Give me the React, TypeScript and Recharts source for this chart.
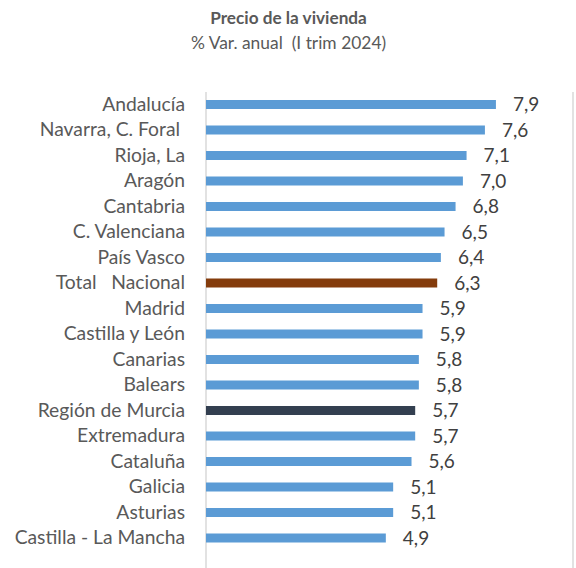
import { Bar, BarChart, CartesianGrid, Cell, LabelList, XAxis, YAxis } from "recharts"

const regions = [
  "Andalucía",
  "Navarra, C. Foral ",
  "Rioja, La",
  "Aragón",
  "Cantabria",
  "C. Valenciana",
  "País Vasco",
  "Total   Nacional",
  "Madrid",
  "Castilla y León",
  "Canarias",
  "Balears",
  "Región de Murcia",
  "Extremadura",
  "Cataluña",
  "Galicia",
  "Asturias",
  "Castilla - La Mancha",
]

const variation = [7.9, 7.6, 7.1, 7.0, 6.8, 6.5, 6.4, 6.3, 5.9, 5.9, 5.8, 5.8, 5.7, 5.7, 5.6, 5.1, 5.1, 4.9]

const xTicks = [0, 5, 10]

const FONT = "Lato, 'Open Sans', sans-serif"

function barColor(name: string) {
  if (name.startsWith("Total")) return "#843C0C"
  if (name === "Región de Murcia") return "#333F50"
  return "#5B9BD5"
}

function RegionTick(props: any) {
  const { x, y, payload } = props
  return (
    <text
      x={x}
      y={y}
      dy={6}
      textAnchor="end"
      fill="#595959"
      fontSize={19.3}
      fontFamily={FONT}
      style={{ whiteSpace: "pre" }}
      xmlSpace="preserve"
    >
      {payload.value}
    </text>
  )
}

export default function App() {
  const chartData = regions.map((region, i) => ({ region, value: variation[i] }))

  return (
    <div style={{ position: "absolute", left: 0, top: 0, width: 576, height: 568, background: "#fff" }}>
      <div
        style={{
          position: "absolute",
          top: 5,
          left: 0,
          width: 577,
          textAlign: "center",
          fontFamily: FONT,
          color: "#595959",
          lineHeight: "25px",
        }}
      >
        <div style={{ fontWeight: "bold", fontSize: 17.2 }}>Precio de la vivienda</div>
        <div style={{ fontSize: 17.4 }}>% Var. anual&nbsp; (I trim 2024)</div>
      </div>
      <BarChart
        width={576}
        height={568}
        data={chartData}
        layout="vertical"
        margin={{ top: 92, right: 3, bottom: 0, left: 0 }}
      >
        <CartesianGrid horizontal={false} stroke="#D9D9D9" strokeWidth={1.5} />
        <XAxis type="number" domain={[0, 10]} ticks={xTicks} axisLine={false} tickLine={false} tick={false} height={0} />
        <YAxis
          type="category"
          dataKey="region"
          width={206}
          axisLine={false}
          tickLine={false}
          tick={<RegionTick />}
          tickMargin={15}
          interval={0}
          padding={{ top: 0, bottom: 17 }}
        />
        <Bar dataKey="value" barSize={9} isAnimationActive={false}>
          {chartData.map((d) => (
            <Cell key={d.region} fill={barColor(d.region)} />
          ))}
          <LabelList
            dataKey="value"
            position="right"
            offset={17}
            fill="#404040"
            fontSize={19}
            fontFamily={FONT}
            formatter={(v: any) => Number(v).toFixed(1).replace(".", ",")}
          />
        </Bar>
      </BarChart>
    </div>
  )
}
